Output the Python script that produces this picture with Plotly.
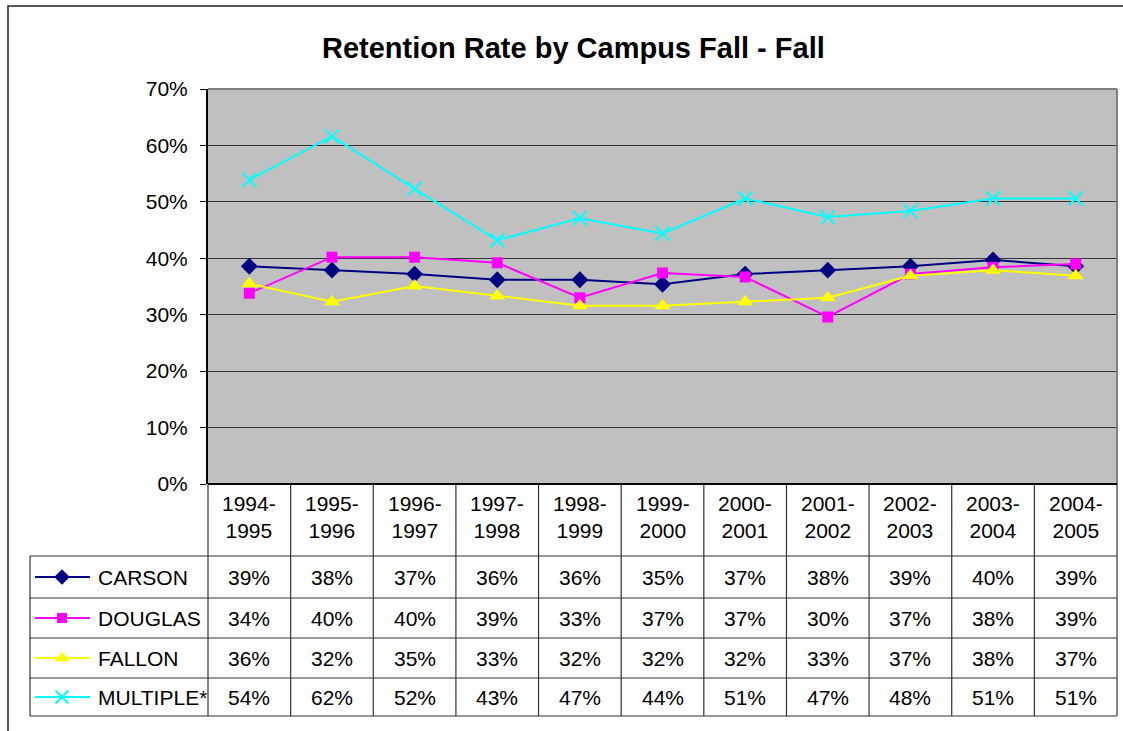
import plotly.graph_objects as go

W, H = 1123, 731

categories = ["1994-1995", "1995-1996", "1996-1997", "1997-1998", "1998-1999", "1999-2000",
              "2000-2001", "2001-2002", "2002-2003", "2003-2004", "2004-2005"]
series_names = ["CARSON", "DOUGLAS", "FALLON", "MULTIPLE*"]
carson = [0.386, 0.379, 0.372, 0.362, 0.362, 0.354, 0.372, 0.379, 0.386, 0.397, 0.386]
douglas = [0.338, 0.402, 0.402, 0.392, 0.330, 0.374, 0.367, 0.296, 0.372, 0.384, 0.390]
fallon = [0.355, 0.323, 0.351, 0.333, 0.316, 0.316, 0.323, 0.330, 0.369, 0.379, 0.369]
multiple = [0.539, 0.616, 0.523, 0.432, 0.471, 0.444, 0.506, 0.473, 0.484, 0.506, 0.506]
y_ticks = [0, 0.1, 0.2, 0.3, 0.4, 0.5, 0.6, 0.7]

series_values = [carson, douglas, fallon, multiple]
colors = ["#000080", "#FF00FF", "#FFFF00", "#00FFFF"]
symbols = ["diamond", "square", "triangle-up", "x-thin"]
msizes = [13, 11, 14, 14]

FONT = "Arial, 'Liberation Sans', sans-serif"
FS = 21

# pixel geometry
PL, PR, PT, PB = 208, 1117, 89, 484
TL = 30
row_lines = [556, 598, 638, 678, 716]


def px(x):
    return x / W


def py(y):
    return 1 - y / H


def marker_for(c, s, ms):
    m = dict(symbol=s, size=ms, color=c, opacity=1)
    if s == "x-thin":
        m["line"] = dict(color=c, width=2)
    else:
        m["line"] = dict(color=c, width=0)
    return m


fig = go.Figure()

for name, vals, c, s, ms in zip(series_names, series_values, colors, symbols, msizes):
    fig.add_trace(go.Scatter(x=categories, y=vals, mode="lines+markers", name=name,
                             line=dict(color=c, width=2), marker=marker_for(c, s, ms),
                             showlegend=False, cliponaxis=False))

# legend keys inside the data table (separate pixel-scaled subplot over the label column)
for i, (name, c, s, ms) in enumerate(zip(series_names, colors, symbols, msizes)):
    yc = (row_lines[i + 1] + row_lines[i]) / 2
    fig.add_trace(go.Scatter(x=[35, 90], y=[yc, yc], mode="lines",
                             line=dict(color=c, width=2),
                             xaxis="x2", yaxis="y2", showlegend=False, hoverinfo="skip"))
    fig.add_trace(go.Scatter(x=[62], y=[yc], mode="markers",
                             marker=marker_for(c, s, ms - 1),
                             xaxis="x2", yaxis="y2", showlegend=False, hoverinfo="skip",
                             cliponaxis=False))

shapes = []
line_col = "#333333"
# gray plot area background
shapes.append(dict(type="rect", xref="paper", yref="paper", x0=px(PL), x1=px(PR),
                   y0=py(PB), y1=py(PT), fillcolor="#C0C0C0", line=dict(width=0), layer="below"))
# outer chart border
shapes.append(dict(type="rect", xref="paper", yref="paper", x0=px(8), x1=px(1135),
                   y0=py(745), y1=py(6), line=dict(color="#222222", width=1.5)))
# plot area top/right border
shapes.append(dict(type="line", xref="paper", yref="paper", x0=px(PL), x1=px(PR),
                   y0=py(PT), y1=py(PT), line=dict(color="#808080", width=2)))
shapes.append(dict(type="line", xref="paper", yref="paper", x0=px(PR), x1=px(PR),
                   y0=py(PB), y1=py(PT), line=dict(color="#808080", width=2)))
# table horizontal lines
shapes.append(dict(type="line", xref="paper", yref="paper", x0=px(PL), x1=px(PR),
                   y0=py(PB), y1=py(PB), line=dict(color="#000000", width=2)))
for yl in row_lines:
    shapes.append(dict(type="line", xref="paper", yref="paper", x0=px(TL), x1=px(PR),
                       y0=py(yl), y1=py(yl), line=dict(color=line_col, width=1.2)))
# table vertical lines
shapes.append(dict(type="line", xref="paper", yref="paper", x0=px(TL), x1=px(TL),
                   y0=py(row_lines[-1]), y1=py(row_lines[0]), line=dict(color=line_col, width=1.2)))
ncat = len(categories)
for k in range(ncat + 1):
    xl = PL + (PR - PL) * k / ncat
    shapes.append(dict(type="line", xref="paper", yref="paper", x0=px(xl), x1=px(xl),
                       y0=py(row_lines[-1]), y1=py(PB), line=dict(color=line_col, width=1.2)))

annotations = []
annotations.append(dict(text="<b>Retention Rate by Campus Fall - Fall</b>", xref="paper", yref="paper",
                        x=px(573), y=py(48), showarrow=False, xanchor="center", yanchor="middle",
                        font=dict(family=FONT, size=29, color="#000000")))
for cat in categories:
    a, b = cat.split("-")
    annotations.append(dict(text=a + "-<br>" + b, xref="x", yref="paper", x=cat, y=py(517),
                            showarrow=False, xanchor="center", yanchor="middle", align="center",
                            font=dict(family=FONT, size=FS, color="#000000")))
for i, (name, vals) in enumerate(zip(series_names, series_values)):
    yc = (row_lines[i + 1] + row_lines[i]) / 2
    annotations.append(dict(text=name, xref="paper", yref="paper", x=px(96), y=py(yc),
                            showarrow=False, xanchor="left", yanchor="middle",
                            font=dict(family=FONT, size=FS, color="#000000")))
    for cat, v in zip(categories, vals):
        annotations.append(dict(text=f"{v:.0%}", xref="x", yref="paper", x=cat, y=py(yc),
                                showarrow=False, xanchor="center", yanchor="middle",
                                font=dict(family=FONT, size=FS, color="#000000")))

fig.update_layout(
    width=W, height=H, autosize=False,
    margin=dict(l=0, r=0, t=0, b=0, pad=0, autoexpand=False),
    paper_bgcolor="#FFFFFF",
    plot_bgcolor="rgba(0,0,0,0)",
    font=dict(family=FONT, size=FS, color="#000000"),
    hovermode=False,
    xaxis=dict(domain=[px(PL), px(PR)], type="category", categoryorder="array",
               categoryarray=categories, range=[-0.5, ncat - 0.5],
               showticklabels=False, ticks="", showgrid=False, zeroline=False, showline=False,
               fixedrange=True),
    yaxis=dict(domain=[py(PB), py(PT)], range=[0, 0.7], tickvals=y_ticks, tickformat=".0%",
               ticks="outside", ticklen=6, tickcolor="#000000", tickwidth=1,
               showgrid=True, gridcolor="#333333", gridwidth=1, zeroline=False,
               showline=True, linecolor="#000000", linewidth=2,
               tickfont=dict(family=FONT, size=FS, color="#000000"), ticklabelstandoff=8,
               automargin=False, fixedrange=True),
    xaxis2=dict(domain=[px(TL), px(PL)], range=[TL, PL], visible=False, anchor="y2",
                fixedrange=True),
    yaxis2=dict(domain=[py(row_lines[-1]), py(row_lines[0])], range=[row_lines[-1], row_lines[0]],
                visible=False, anchor="x2", fixedrange=True),
    shapes=shapes,
    annotations=annotations,
)

fig.write_html("out.html", config={"displayModeBar": False, "staticPlot": True},
               post_script="document.body.style.margin='0';document.body.style.overflow='hidden';")
